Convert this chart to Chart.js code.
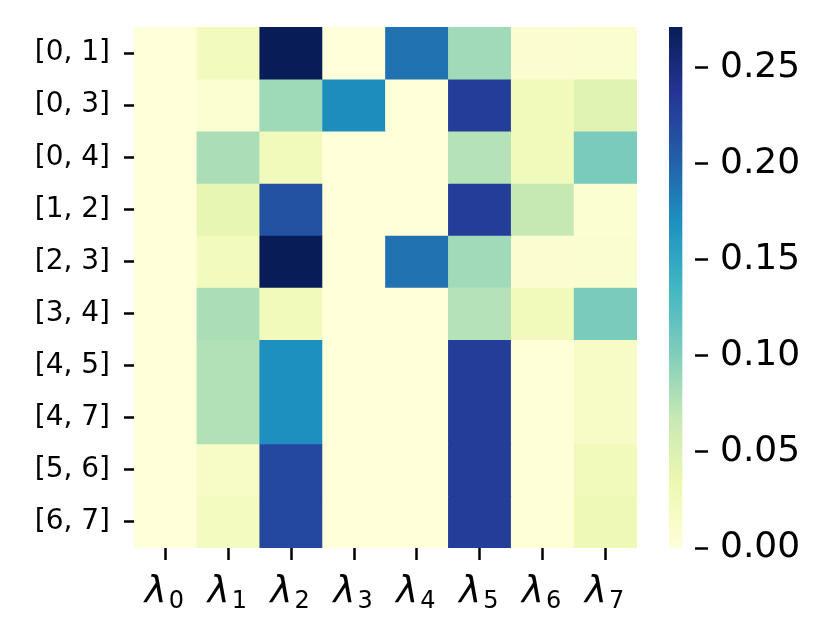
<!DOCTYPE html>
<html>
<head>
<meta charset="utf-8">
<script src="https://cdn.jsdelivr.net/npm/chart.js@4.4.1/dist/chart.umd.min.js"></script>
<style>
  html, body { margin: 0; padding: 0; background: #ffffff; }
  #wrap { position: relative; width: 832px; height: 639px; }
  canvas { position: absolute; left: 0; top: 0; }
</style>
</head>
<body>
<div id="wrap">
  <canvas id="heat" width="832" height="639"></canvas>
  <canvas id="cbar" width="832" height="639"></canvas>
</div>
<script>
// ---- data ----
const rowLabels = ['[0, 1]', '[0, 3]', '[0, 4]', '[1, 2]', '[2, 3]', '[3, 4]', '[4, 5]', '[4, 7]', '[5, 6]', '[6, 7]'];
const colSubscripts = ['0', '1', '2', '3', '4', '5', '6', '7'];
const lambda0 = [0.000, 0.000, 0.000, 0.000, 0.000, 0.000, 0.000, 0.000, 0.000, 0.000];
const lambda1 = [0.024, 0.007, 0.081, 0.039, 0.024, 0.081, 0.077, 0.077, 0.015, 0.020];
const lambda2 = [0.271, 0.087, 0.025, 0.213, 0.271, 0.025, 0.170, 0.170, 0.221, 0.221];
const lambda3 = [0.000, 0.172, 0.000, 0.000, 0.000, 0.000, 0.000, 0.000, 0.000, 0.000];
const lambda4 = [0.190, 0.000, 0.000, 0.000, 0.190, 0.000, 0.000, 0.000, 0.000, 0.000];
const lambda5 = [0.086, 0.230, 0.076, 0.230, 0.086, 0.076, 0.230, 0.230, 0.230, 0.230];
const lambda6 = [0.008, 0.025, 0.025, 0.068, 0.008, 0.025, 0.002, 0.002, 0.002, 0.002];
const lambda7 = [0.010, 0.045, 0.104, 0.007, 0.010, 0.104, 0.015, 0.015, 0.025, 0.030];
const colorbarTicks = [0.00, 0.05, 0.10, 0.15, 0.20, 0.25];
const vmin = 0;
const vmax = 0.271;

const columns = [lambda0, lambda1, lambda2, lambda3, lambda4, lambda5, lambda6, lambda7];

// YlGnBu colormap anchors
const YlGnBu = [
  [255,255,217],[237,248,177],[199,233,180],[127,205,187],[65,182,196],
  [29,145,192],[34,94,168],[37,52,148],[8,29,88]
];
function cmap(t) {
  t = Math.max(0, Math.min(1, t));
  const f = t * (YlGnBu.length - 1);
  const i = Math.min(YlGnBu.length - 2, Math.floor(f));
  const r = f - i;
  const a = YlGnBu[i], b = YlGnBu[i + 1];
  const c = a.map((v, k) => Math.round(v + (b[k] - v) * r));
  return `rgb(${c[0]},${c[1]},${c[2]})`;
}
function colorFor(v) { return cmap((v - vmin) / (vmax - vmin)); }

// ---- heatmap ----
const datasets = rowLabels.map((lab, i) => ({
  label: lab,
  data: colSubscripts.map(() => [i, i + 1]),
  backgroundColor: columns.map(col => colorFor(col[i])),
  borderWidth: 0,
  borderSkipped: false,
  barPercentage: 1.0,
  categoryPercentage: 1.0,
  grouped: false
}));

const xLabelPlugin = {
  id: 'xLabels',
  afterDraw(chart) {
    const xs = chart.scales.x;
    const c = chart.ctx;
    c.save();
    c.fillStyle = '#000';
    c.textBaseline = 'alphabetic';
    const bigFont = 'italic 37px "DejaVu Sans"';
    const subFont = '24px "DejaVu Sans"';
    colSubscripts.forEach((s, j) => {
      const x = xs.getPixelForTick(j);
      c.font = bigFont;
      const w1 = c.measureText('λ').width;
      c.font = subFont;
      const w2 = c.measureText(s).width;
      const total = w1 + 2 + w2;
      const x0 = x - total / 2 - 1;
      c.font = bigFont;
      c.textAlign = 'left';
      c.fillText('λ', x0, 602);
      c.font = subFont;
      c.fillText(s, x0 + w1 + 2, 608);
    });
    c.restore();
  }
};

new Chart(document.getElementById('heat'), {
  type: 'bar',
  data: { labels: colSubscripts.map(s => 'λ' + s), datasets },
  options: {
    responsive: false,
    animation: false,
    devicePixelRatio: 1,
    layout: { padding: { left: 0, top: 27, right: 195, bottom: 0 } },
    plugins: { legend: { display: false }, tooltip: { enabled: false } },
    scales: {
      x: {
        type: 'category',
        offset: true,
        border: { display: false },
        grid: { display: true, drawOnChartArea: false, drawTicks: true, offset: false,
                tickLength: 12, tickColor: '#000', tickWidth: 2.5 },
        ticks: { display: false },
        afterFit(scale) { scale.height = 91; scale.paddingLeft = 0; scale.paddingRight = 0; }
      },
      y: {
        type: 'linear',
        reverse: true,
        min: 0,
        max: rowLabels.length,
        border: { display: false },
        grid: { display: true, drawOnChartArea: false, drawTicks: true,
                tickLength: 10, tickColor: '#000', tickWidth: 2.5 },
        afterBuildTicks(axis) {
          axis.ticks = rowLabels.map((_, i) => ({ value: i + 0.5 }));
        },
        ticks: {
          autoSkip: false,
          padding: 14,
          color: '#000',
          font: { family: '"DejaVu Sans"', size: 28 },
          callback: (v) => rowLabels[Math.floor(v)]
        },
        afterFit(scale) { scale.width = 134; scale.paddingTop = 0; scale.paddingBottom = 0; }
      }
    }
  },
  plugins: [xLabelPlugin]
});

// ---- colorbar ----
new Chart(document.getElementById('cbar'), {
  type: 'bar',
  data: {
    labels: ['cbar'],
    datasets: [{
      data: [[vmin, vmax]],
      borderWidth: 0,
      borderSkipped: false,
      barPercentage: 1.0,
      categoryPercentage: 1.0,
      backgroundColor(ctx) {
        const ch = ctx.chart;
        const area = ch.chartArea;
        if (!area) return '#ffffd9';
        const g = ch.ctx.createLinearGradient(0, area.bottom, 0, area.top);
        YlGnBu.forEach((c, k) => g.addColorStop(k / (YlGnBu.length - 1), `rgb(${c[0]},${c[1]},${c[2]})`));
        return g;
      }
    }]
  },
  options: {
    responsive: false,
    animation: false,
    devicePixelRatio: 1,
    layout: { padding: { left: 669, top: 27, right: 0, bottom: 91 } },
    plugins: { legend: { display: false }, tooltip: { enabled: false } },
    scales: {
      x: { display: false, offset: false },
      y: {
        type: 'linear',
        position: 'right',
        min: vmin,
        max: vmax,
        border: { display: false },
        grid: { display: true, drawOnChartArea: false, drawTicks: true,
                tickLength: 13, tickColor: '#000', tickWidth: 2.5 },
        afterBuildTicks(axis) {
          axis.ticks = colorbarTicks.map(v => ({ value: v }));
        },
        ticks: {
          autoSkip: false,
          padding: 12,
          color: '#000',
          font: { family: '"DejaVu Sans"', size: 36 },
          callback: (v) => Number(v).toFixed(2)
        },
        afterFit(scale) { scale.width = 137; scale.paddingTop = 0; scale.paddingBottom = 0; }
      }
    }
  }
});
</script>
</body>
</html>
